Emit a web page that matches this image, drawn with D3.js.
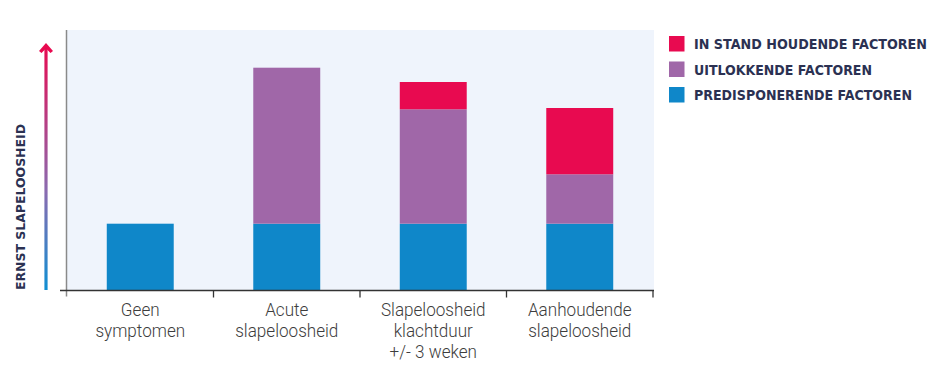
<!DOCTYPE html>
<html>
<head>
<meta charset="utf-8">
<script src="https://cdn.jsdelivr.net/npm/d3@7"></script>
<style>
  html, body { margin: 0; padding: 0; background: #fff; }
</style>
</head>
<body>
<div id="chart"></div>
<script>
// categories (label lines) and stacked values, bottom to top
const categories = ["Geen symptomen", "Acute slapeloosheid", "Slapeloosheid klachtduur", "Aanhoudende slapeloosheid"];
const categoryLines = [
  ["Geen", "symptomen"],
  ["Acute", "slapeloosheid"],
  ["Slapeloosheid", "klachtduur", "+/- 3 weken"],
  ["Aanhoudende", "slapeloosheid"]
];
const predisponerend = [25.5, 25.5, 25.5, 25.5];
const uitlokkend = [0, 60, 44, 19];
const inStandHoudend = [0, 0, 10.5, 25.5];

const seriesNames = ["PREDISPONERENDE FACTOREN", "UITLOKKENDE FACTOREN", "IN STAND HOUDENDE FACTOREN"];
const seriesColors = ["#0f87c9", "#a067a8", "#e80a50"];

function init() {
  const width = 942;
  const height = 376;
  const margin = { top: 30, left: 67, right: 289, bottom: 86 };

  const svg = d3.select("#chart").append("svg")
      .attr("width", width)
      .attr("height", height)
      .attr("viewBox", [0, 0, width, height]);

  const x = d3.scaleBand()
      .domain(categories)
      .range([margin.left, width - margin.right])
      .paddingInner(0.543)
      .paddingOuter(0.2715);

  const y = d3.scaleLinear()
      .domain([0, 100])
      .range([height - margin.bottom, margin.top]);

  // plot background
  svg.append("rect")
      .attr("x", margin.left)
      .attr("y", margin.top)
      .attr("width", width - margin.right - margin.left + 1)
      .attr("height", y(0) - margin.top)
      .attr("fill", "#eff4fc");

  // stack the series
  const rows = categories.map((c, i) => ({
    cat: c, s0: predisponerend[i], s1: uitlokkend[i], s2: inStandHoudend[i]
  }));
  const stack = d3.stack().keys(["s0", "s1", "s2"])(rows);

  svg.append("g")
    .selectAll("g")
    .data(stack)
    .join("g")
      .attr("fill", (d, i) => seriesColors[i])
    .selectAll("rect")
    .data(d => d.filter(p => p[1] - p[0] > 0))
    .join("rect")
      .attr("x", d => x(d.data.cat))
      .attr("width", x.bandwidth())
      .attr("y", d => y(d[1]))
      .attr("height", d => y(d[0]) - y(d[1]));

  // left grey line
  svg.append("line")
      .attr("x1", margin.left - 0.5).attr("x2", margin.left - 0.5)
      .attr("y1", margin.top).attr("y2", y(0) + 6.5)
      .attr("stroke", "#8a8a8a")
      .attr("stroke-width", 1.5);

  // bottom axis with ticks at band boundaries
  const bottom = y(0) + 0.5;
  svg.append("line")
      .attr("x1", 60).attr("x2", width - margin.right + 1)
      .attr("y1", bottom).attr("y2", bottom)
      .attr("stroke", "#333")
      .attr("stroke-width", 1.5);

  const boundaries = categories.map(c => x(c) - x.step() * x.paddingInner() / 2);
  boundaries.push(x(categories[categories.length - 1]) + x.bandwidth() + x.step() * x.paddingInner() / 2);
  svg.append("g")
    .selectAll("line")
    .data(boundaries.slice(1))
    .join("line")
      .attr("x1", d => d).attr("x2", d => d)
      .attr("y1", bottom).attr("y2", bottom + 7)
      .attr("stroke", "#333")
      .attr("stroke-width", 1.3);

  // category labels (slightly condensed)
  const labels = svg.append("g")
      .attr("font-family", "Roboto, sans-serif")
      .attr("font-weight", 300)
      .attr("font-size", 19)
      .attr("fill", "#3d3d3d")
      .attr("text-anchor", "middle");
  categories.forEach((c, i) => {
    const t = labels.append("text")
        .attr("transform", `translate(${x(c) + x.bandwidth() / 2},316) scale(0.9,1)`);
    categoryLines[i].forEach((line, j) => {
      t.append("tspan")
          .attr("x", 0)
          .attr("y", j * 21)
          .text(line);
    });
  });

  // gradient arrow (y axis)
  const defs = svg.append("defs");
  const grad = defs.append("linearGradient")
      .attr("id", "arrowGrad")
      .attr("gradientUnits", "userSpaceOnUse")
      .attr("x1", 0).attr("y1", y(0))
      .attr("x2", 0).attr("y2", 43);
  grad.append("stop").attr("offset", "0%").attr("stop-color", "#0f8fd2");
  grad.append("stop").attr("offset", "40%").attr("stop-color", "#8a6bb0");
  grad.append("stop").attr("offset", "100%").attr("stop-color", "#e80a50");

  svg.append("line")
      .attr("x1", 46).attr("x2", 46)
      .attr("y1", y(0)).attr("y2", 47)
      .attr("stroke", "url(#arrowGrad)")
      .attr("stroke-width", 3.2);
  svg.append("path")
      .attr("d", "M46,43 L53,51 L50.5,53 L46,48.5 L41.5,53 L39,51 Z")
      .attr("fill", "#e80a50");

  svg.append("text")
      .attr("transform", `translate(25,${y(0)}) rotate(-90)`)
      .attr("font-family", "'DejaVu Sans', sans-serif")
      .attr("font-weight", "bold")
      .attr("font-size", 12.5)
      .attr("fill", "#2b3152")
      .attr("textLength", 166)
      .attr("lengthAdjust", "spacingAndGlyphs")
      .text("ERNST SLAPELOOSHEID");

  // legend, top to bottom
  const legendItems = [2, 1, 0];
  const legend = svg.append("g")
    .selectAll("g")
    .data(legendItems)
    .join("g")
      .attr("transform", (d, i) => `translate(669,${36 + i * 25.5})`);
  legend.append("rect")
      .attr("width", 15.5).attr("height", 15.5)
      .attr("fill", d => seriesColors[d]);
  legend.append("text")
      .attr("x", 25)
      .attr("y", 13)
      .attr("font-family", "'DejaVu Sans', sans-serif")
      .attr("font-weight", "bold")
      .attr("font-size", 13.5)
      .attr("fill", "#2b3152")
      .attr("textLength", d => [218, 178, 233][d])
      .attr("lengthAdjust", "spacingAndGlyphs")
      .text(d => seriesNames[d]);
}

document.addEventListener("DOMContentLoaded", init, false);
</script>
</body>
</html>
